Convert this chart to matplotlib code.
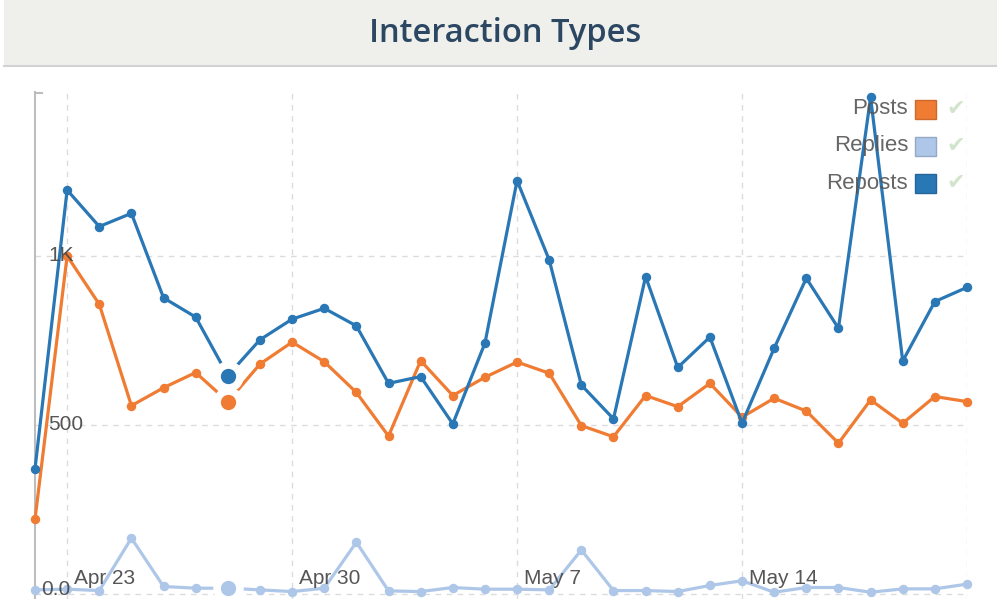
import numpy as np
import pandas as pd
import matplotlib
matplotlib.use("Agg")
import matplotlib.pyplot as plt
import matplotlib.dates as mdates
from matplotlib.patches import Rectangle
from matplotlib.lines import Line2D
from matplotlib.transforms import blended_transform_factory, offset_copy

# ---- data ----
dates = pd.date_range("2024-04-22", "2024-05-21", freq="D")
posts = [221, 1000, 857, 557, 610, 655, 569, 680, 745, 687,
         596, 467, 690, 587, 641, 686, 653, 498, 465, 587,
         554, 623, 523, 579, 541, 446, 574, 505, 584, 569]
replies = [12, 14, 10, 165, 22, 17, 17, 12, 7, 17,
           153, 9, 7, 19, 14, 14, 12, 130, 10, 10,
           7, 25, 39, 5, 19, 19, 5, 15, 15, 29]
reposts = [370, 1195, 1087, 1126, 876, 819, 646, 752, 813, 845,
           793, 623, 643, 503, 742, 1223, 988, 618, 518, 939,
           670, 760, 505, 727, 934, 786, 1469, 689, 865, 907]
hover_idx = 6  # Apr 28 is highlighted (hovered) in the reference

series_names = ["Posts", "Replies", "Reposts"]
series_colors = ["#f07c33", "#aec7e8", "#2a77b6"]
series_values = [posts, replies, reposts]

week_ticks = pd.to_datetime(["2024-04-23", "2024-04-30", "2024-05-07", "2024-05-14", "2024-05-21"])
y_ticks = [0, 500, 1000]
y_labels = ["0.0", "500", "1K"]

W, H = 997, 599
fig = plt.figure(figsize=(W / 100, H / 100), dpi=100)

# title bar
fig.patches.append(Rectangle((4 / W, 1 - 65 / H), 1 - 4 / W, 65 / H,
                             transform=fig.transFigure, facecolor="#efefeb", edgecolor="none"))
fig.lines.append(Line2D([4 / W, 1], [1 - 66 / H, 1 - 66 / H], transform=fig.transFigure,
                        color="#d2d2d2", linewidth=1.5))
fig.text(505 / W, 1 - 34 / H, "Interaction Types", ha="center", va="center",
         fontsize=23.5, fontfamily="Open Sans", fontweight="semibold", color="#2b4762")

ax = fig.add_axes([35 / W, 0, (967 - 35) / W, (599 - 92) / H])
ax.set_xlim(dates[0], dates[-1])
ax.set_ylim(-15, 1485)

for name, color, vals in zip(series_names, series_colors, series_values):
    ax.plot(dates, vals, "-o", color=color, linewidth=2.3, markersize=5.8,
            solid_joinstyle="round", zorder=3, clip_on=False)
    # hovered point: big dot with white halo
    ax.plot(dates[hover_idx], vals[hover_idx], "o", color="white", markersize=21, zorder=5)
    ax.plot(dates[hover_idx], vals[hover_idx], "o", color=color, markersize=10, zorder=6)

# grid
ax.set_xticks(week_ticks)
ax.set_yticks(y_ticks)
ax.grid(True, color="#dcdcdc", linestyle=(0, (4, 4)), linewidth=1)
ax.tick_params(length=0, labelbottom=False, labelleft=False)
for sp in ["top", "right", "bottom"]:
    ax.spines[sp].set_visible(False)
ax.spines["left"].set_color("#bdbdbd")
ax.spines["left"].set_linewidth(1.5)
fig.lines.append(Line2D([35 / W, 42 / W], [1 - 93 / H, 1 - 93 / H], transform=fig.transFigure,
                        color="#bdbdbd", linewidth=1.5))

# tick labels inside the plot
tf = blended_transform_factory(ax.transData, ax.transAxes)
for d in week_ticks[:-1]:
    ax.text(mdates.date2num(d), 0, f"{d:%b} {d.day}",
            transform=offset_copy(tf, fig, x=7, y=21, units="dots"),
            ha="left", va="center", fontsize=15, fontfamily="Liberation Sans", color="#444444",
            alpha=0.9, zorder=7)
ty = blended_transform_factory(ax.transAxes, ax.transData)
for v, lab in zip(y_ticks, y_labels):
    ax.text(0, v, lab, transform=offset_copy(ty, fig, x=13 if v else 6, y=4 if v == 0 else 0, units="dots"),
            ha="left", va="center", fontsize=15, fontfamily="Liberation Sans", color="#444444",
            alpha=0.9, zorder=7)

# legend
leg_y = [109, 146, 183]
for name, color, yy in zip(series_names, series_colors, leg_y):
    fig.text(908 / W, 1 - yy / H, name, ha="right", va="center", fontsize=16,
             fontfamily="Liberation Sans", color="#555555", alpha=0.9, zorder=10)
    edge = tuple(np.array(matplotlib.colors.to_rgb(color)) * 0.85)
    fig.patches.append(Rectangle((915 / W, 1 - (yy + 9.5) / H), 21 / W, 19 / H,
                                 transform=fig.transFigure, facecolor=color, edgecolor=edge,
                                 linewidth=1, zorder=10))
    fig.text(956 / W, 1 - yy / H, "\u2714", ha="center", va="center", fontsize=16,
             fontfamily="DejaVu Sans", color="#d2e5cc", zorder=10)

fig.savefig("out.png", dpi=100)
